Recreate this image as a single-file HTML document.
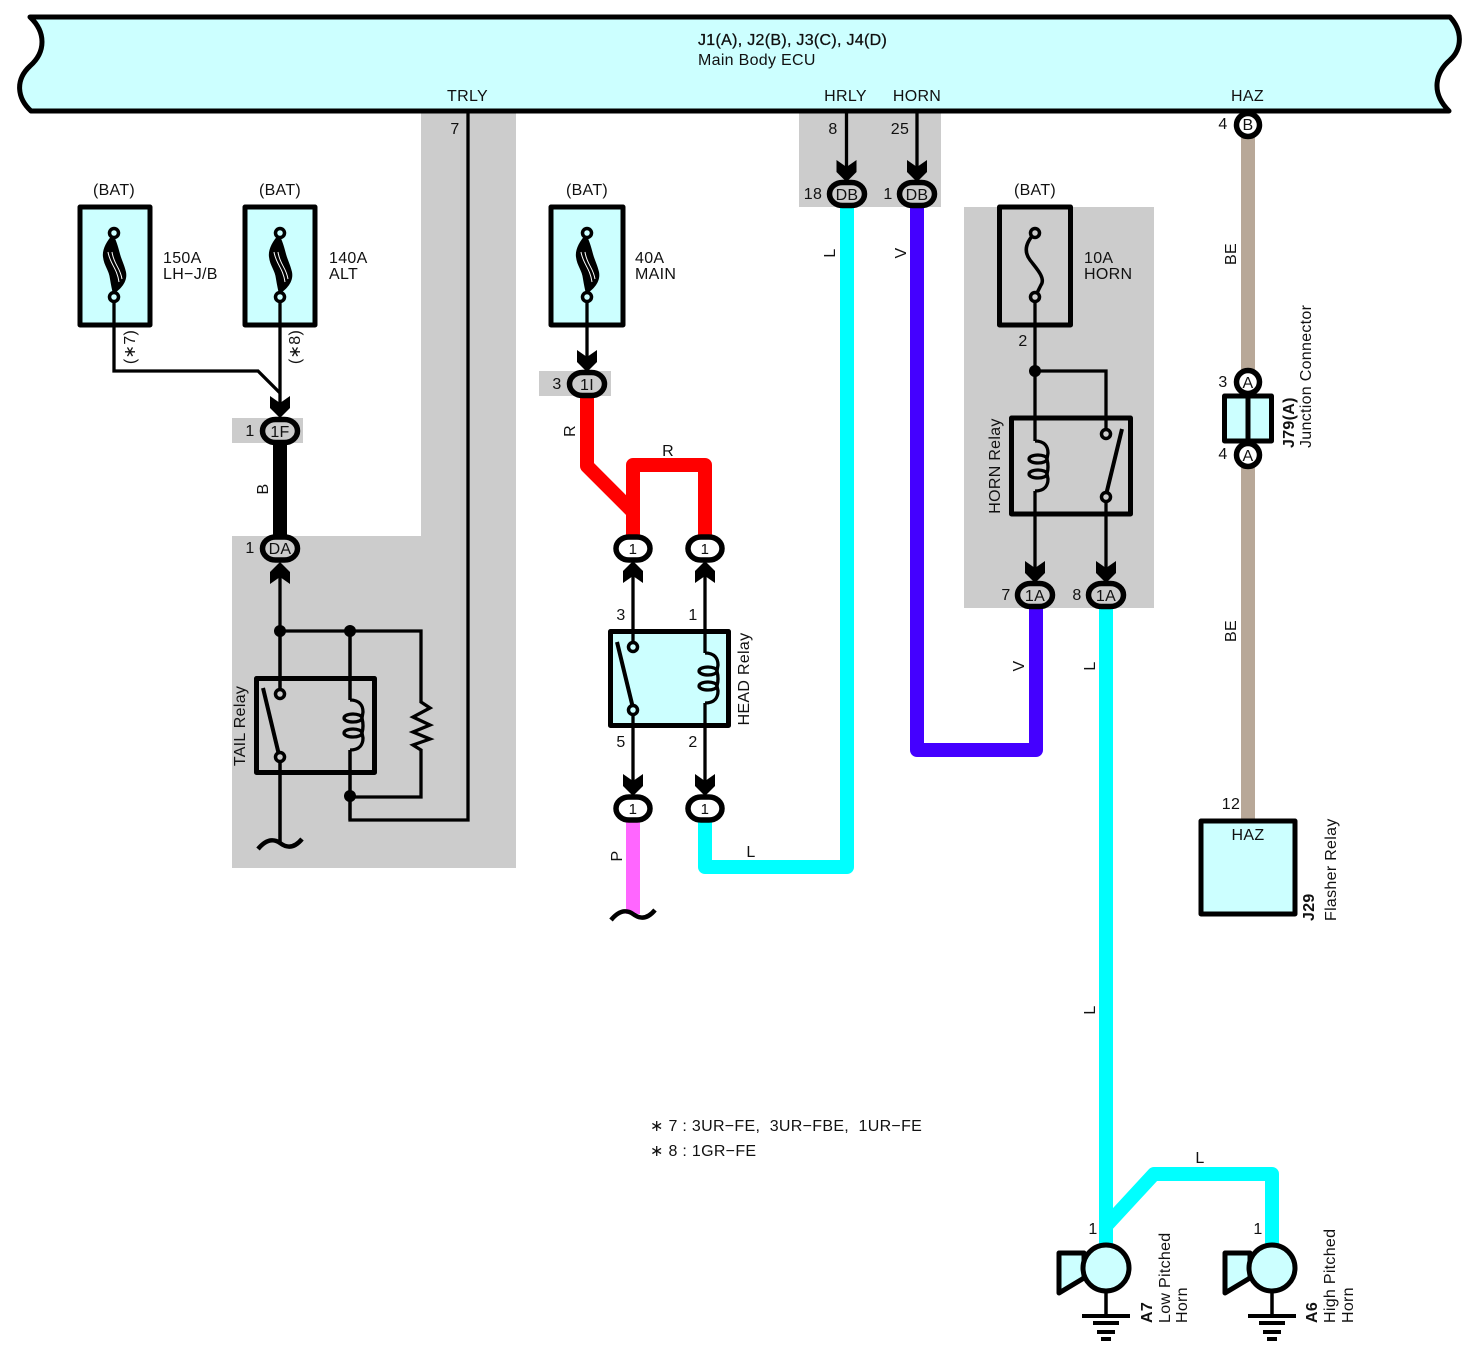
<!DOCTYPE html>
<html><head><meta charset="utf-8"><style>
html,body{margin:0;padding:0;background:#fff;width:1470px;height:1350px;overflow:hidden}
svg{display:block}
text{font-family:"Liberation Sans",sans-serif;font-size:16px;letter-spacing:.3px;fill:#111}
.m{text-anchor:middle}
.b{font-weight:bold}
.l{fill:none;stroke:#000;stroke-width:3.3}
.box{stroke:#000;stroke-width:5;stroke-linejoin:round}
</style></head><body>
<svg width="1470" height="1350" viewBox="0 0 1470 1350" xmlns="http://www.w3.org/2000/svg">
<defs>
<path id="ad" d="M-10,-22L0,-15L10,-22V-10L0,0L-10,-10Z" fill="#000"/>
<path id="au" d="M-10,22L0,15L10,22V10L0,0L-10,10Z" fill="#000"/>
<g id="coil" fill="none" stroke="#000" stroke-width="3.3"><path d="M0,0C10,0 13,6 13,12L12,18Q14,26 12,33L13,38C13,44 10,50 0,50"/><ellipse cx="3" cy="18" rx="9" ry="4"/><ellipse cx="3" cy="33" rx="9" ry="4"/></g>
<g id="fuse"><path d="M-1,-28C-8,-20 -12,-12 -11,-5C-10,4 -5,8 -4,17C-3,23 -2,28 -1,32C6,28 14,20 12,10C10,2 8,-1 6,-8C4,-16 2,-22 -1,-28Z" fill="#000"/><path d="M-6,-10C-4,2 3,6 5,20M-2,-10C0,3 6,5 8,17" fill="none" stroke="#fff" stroke-width="1"/></g>
<path id="sq" d="M-22,6C-12,-6 -4,-3 0,0S12,8 22,-4" fill="none" stroke="#000" stroke-width="4.5"/>
<g id="gnd" stroke="#000" stroke-width="4"><path d="M0,-25V0" stroke-width="3.5"/><path d="M-24,0H24M-13,7H13M-9,16H9M-5,23H5"/></g>
<g id="hornc"><path d="M-47,-15H-22V10L-47,25Z" fill="#ccffff" stroke="#000" stroke-width="5" stroke-linejoin="round"/><circle r="23" fill="#ccffff" stroke="#000" stroke-width="5"/></g>
</defs>

<!-- gray regions -->
<g fill="#cccccc">
<path d="M421,111H516V868H232V536H421Z"/>
<rect x="232" y="418" width="71" height="25"/>
<rect x="799" y="111" width="142" height="96"/>
<rect x="539" y="371" width="72" height="25"/>
<rect x="964" y="207" width="190" height="401"/>
</g>

<!-- ECU bar -->
<path d="M30,17H1450C1462,30 1463,48 1450,60C1436,72 1430,92 1449,111H31C17,98 15,80 30,66C46,52 46,32 30,17Z" fill="#ccffff" stroke="#000" stroke-width="5" stroke-linejoin="round"/>

<!-- thick wires -->
<g fill="none" stroke-width="14" stroke-linejoin="round" stroke-linecap="butt">
<path d="M280,431V548" stroke="#000"/>
<path d="M587,384V466L633,512V548" stroke="#ff0000"/>
<path d="M633,512V465H705V548" stroke="#ff0000"/>
<path d="M633,808V914" stroke="#ff66ff"/>
<path d="M705,808V867H847V194" stroke="#00ffff"/>
<path d="M917,194V750H1036V595" stroke="#4400ff"/>
<path d="M1106,595V1245" stroke="#00ffff"/>
<path d="M1106,1226L1154,1174H1272V1245" stroke="#00ffff"/>
<path d="M1248,125V822" stroke="#b8a898"/>
</g>

<!-- thin wires -->
<g class="l">
<path d="M114,297V371H258L280,393"/>
<path d="M280,297V405"/>
<path d="M280,575V694M280,757V843"/>
<path d="M280,631H421V702L430,708L413,717L430,725L413,732L430,739L413,745L421,750V797H350"/>
<path d="M350,631V700M350,750V820H468V111"/>
<path d="M587,297V360"/>
<path d="M846.5,111V175M917,111V175"/>
</g>

<!-- boxes -->
<g class="box" fill="#ccffff">
<rect x="80" y="207" width="70" height="118"/>
<rect x="245" y="207" width="70" height="118"/>
<rect x="551" y="207" width="72" height="118"/>
<rect x="1224.5" y="396" width="23.5" height="45"/>
<rect x="1248" y="396" width="23.5" height="45"/>
<rect x="1201" y="821" width="94" height="93"/>
</g>
<rect x="999.5" y="207" width="71" height="118" class="box" fill="#cccccc"/>
<path d="M114,297V325M280,297V325M587,297V325" class="l"/>

<use href="#fuse" x="114" y="262"/>
<use href="#fuse" x="280" y="262"/>
<use href="#fuse" x="587" y="262"/>
<path d="M1035,233C1025,243 1024,252 1030,260C1036,268 1046,278 1041,285C1039,289 1037,293 1035,297" fill="none" stroke="#000" stroke-width="3.5"/>

<!-- relays -->
<rect x="256.5" y="678.5" width="118" height="94" class="box" fill="none"/>
<rect x="610.5" y="631.5" width="118" height="94" class="box" fill="#ccffff"/>
<rect x="1011.5" y="418" width="119" height="96" class="box" fill="none"/>
<path d="M633,575V647M633,710V790M705,575V653M705,703V790" class="l"/>
<path d="M280,631V694M280,757V843M350,631V700M350,750V820M1035,297V441M1035,491V575M1035,371H1106V434M1106,497V575" class="l"/>
<use href="#coil" x="350" y="700"/>
<use href="#coil" x="705" y="653"/>
<use href="#coil" x="1035" y="441"/>
<g stroke="#000" stroke-width="4" fill="none">
<path d="M263,688L279,755M617,642L633,708M1122,429L1106,495"/>
</g>
<g fill="#ccffff" stroke="#000" stroke-width="3.5">
<circle cx="633" cy="647" r="4.5"/><circle cx="633" cy="710" r="4.5"/>
<circle cx="114" cy="233" r="4.5"/><circle cx="114" cy="297" r="4.5"/>
<circle cx="280" cy="233" r="4.5"/><circle cx="280" cy="297" r="4.5"/>
<circle cx="587" cy="233" r="4.5"/><circle cx="587" cy="297" r="4.5"/>
</g>
<g fill="#cccccc" stroke="#000" stroke-width="3.5">
<circle cx="280" cy="694" r="4.5"/><circle cx="280" cy="757" r="4.5"/>
<circle cx="1106" cy="434" r="4.5"/><circle cx="1106" cy="497" r="4.5"/>
<circle cx="1035" cy="233" r="4.5"/><circle cx="1035" cy="297" r="4.5"/>
</g>
<g fill="#000">
<circle cx="280" cy="631" r="6"/><circle cx="350" cy="631" r="6"/><circle cx="350" cy="796" r="6"/><circle cx="1035" cy="371" r="6"/>
</g>
<use href="#sq" x="280" y="843"/>
<use href="#sq" x="633" y="914"/>

<!-- arrowheads -->
<use href="#ad" x="280" y="418"/>
<use href="#au" x="280" y="562"/>
<use href="#ad" x="587" y="372"/>
<use href="#au" x="633" y="561"/>
<use href="#au" x="705" y="561"/>
<use href="#ad" x="633" y="796"/>
<use href="#ad" x="705" y="796"/>
<use href="#ad" x="846.5" y="182"/>
<use href="#ad" x="917" y="182"/>
<use href="#ad" x="1035" y="583"/>
<use href="#ad" x="1106" y="583"/>

<!-- connectors -->
<g stroke="#000" stroke-width="5.5">
<g fill="#cccccc">
<rect x="262.500" y="419.500" width="35" height="23" rx="13" ry="11.5"/>
<rect x="262.500" y="537" width="35" height="23" rx="13" ry="11.5"/>
<rect x="569.500" y="372.500" width="35" height="23" rx="13" ry="11.500"/>
<rect x="829.500" y="182.500" width="35" height="23" rx="13" ry="11.500"/>
<rect x="899.500" y="182.500" width="35" height="23" rx="13" ry="11.500"/>
<rect x="1017.500" y="583.500" width="35" height="23" rx="13" ry="11.500"/>
<rect x="1088.500" y="583.500" width="35" height="23" rx="13" ry="11.500"/>
</g>
<g fill="#ffffff">
<rect x="616" y="537" width="34" height="23" rx="13" ry="11.5"/>
<rect x="688" y="537" width="34" height="23" rx="13" ry="11.5"/>
<rect x="616" y="797" width="34" height="23" rx="13" ry="11.5"/>
<rect x="688" y="797" width="34" height="23" rx="13" ry="11.5"/>
<circle cx="1248" cy="125" r="11.5"/>
<circle cx="1248" cy="382" r="11.5"/>
<circle cx="1248" cy="455" r="11.5"/>
</g>
</g>

<!-- horns -->
<use href="#gnd" x="1106" y="1316"/>
<use href="#gnd" x="1272" y="1316"/>
<use href="#hornc" x="1106" y="1268"/>
<use href="#hornc" x="1272" y="1268"/>

<!-- labels -->
<text x="698" y="45" style="stroke:#111;stroke-width:.3">J1(A), J2(B), J3(C), J4(D)</text>
<text x="698" y="65">Main Body ECU</text>
<text x="467.500" y="101" class="m">TRLY</text>
<text x="845.500" y="101" class="m">HRLY</text>
<text x="917" y="101" class="m">HORN</text>
<text x="1247.500" y="101" class="m">HAZ</text>
<text x="455" y="134" class="m">7</text>
<text x="833" y="134" class="m">8</text>
<text x="900" y="134" class="m">25</text>
<text x="1223" y="129" class="m">4</text>
<text x="1248" y="130" class="m" >B</text>
<text x="813" y="199" class="m">18</text>
<text x="888" y="199" class="m">1</text>
<text x="847" y="200" class="m">DB</text>
<text x="917" y="200" class="m">DB</text>
<text x="114" y="195" class="m">(BAT)</text>
<text x="280" y="195" class="m">(BAT)</text>
<text x="587" y="195" class="m">(BAT)</text>
<text x="1035" y="195" class="m">(BAT)</text>
<text x="163" y="263">150A</text><text x="163" y="279">LH−J/B</text>
<text x="329" y="263">140A</text><text x="329" y="279">ALT</text>
<text x="635" y="263">40A</text><text x="635" y="279">MAIN</text>
<text x="1084" y="263">10A</text><text x="1084" y="279">HORN</text>
<text class="m" transform="translate(135,347) rotate(-90)">(∗7)</text>
<text class="m" transform="translate(300,347) rotate(-90)">(∗8)</text>
<text x="250" y="436" class="m">1</text><text x="280" y="437" class="m">1F</text>
<text class="m" transform="translate(268,489) rotate(-90)">B</text>
<text x="250" y="553" class="m">1</text><text x="280" y="554" class="m">DA</text>
<text x="557" y="389" class="m">3</text><text x="587" y="390" class="m">1I</text>
<text class="m" transform="translate(575,431) rotate(-90)">R</text>
<text x="668" y="456" class="m">R</text>
<text x="633" y="554" class="m" style="font-size:15px">1</text><text x="705" y="554" class="m" style="font-size:15px">1</text>
<text x="633" y="814" class="m" style="font-size:15px">1</text><text x="705" y="814" class="m" style="font-size:15px">1</text>
<text x="621" y="620" class="m">3</text><text x="693" y="620" class="m">1</text>
<text x="621" y="747" class="m">5</text><text x="693" y="747" class="m">2</text>
<text class="m" transform="translate(749,679) rotate(-90)">HEAD Relay</text>
<text class="m" transform="translate(245,726) rotate(-90)">TAIL Relay</text>
<text class="m" transform="translate(622,856) rotate(-90)">P</text>
<text x="751" y="857" class="m">L</text>
<text class="m" transform="translate(835,253) rotate(-90)">L</text>
<text class="m" transform="translate(906,253) rotate(-90)">V</text>
<text class="m" transform="translate(1024,666) rotate(-90)">V</text>
<text class="m" transform="translate(1095,666) rotate(-90)">L</text>
<text class="m" transform="translate(1095,1010) rotate(-90)">L</text>
<text x="1200" y="1163" class="m">L</text>
<text x="1023" y="346" class="m">2</text>
<text x="1006" y="600" class="m">7</text><text x="1035" y="601" class="m">1A</text>
<text x="1077" y="600" class="m">8</text><text x="1106" y="601" class="m">1A</text>
<text class="m" transform="translate(1000,466) rotate(-90)">HORN Relay</text>
<text class="m" transform="translate(1236,254) rotate(-90)">BE</text>
<text class="m" transform="translate(1236,631) rotate(-90)">BE</text>
<text x="1223" y="387" class="m">3</text><text x="1248" y="388" class="m">A</text>
<text x="1223" y="459" class="m">4</text><text x="1248" y="461" class="m">A</text>
<text transform="translate(1294,448) rotate(-90)" class="b">J79(A)</text>
<text transform="translate(1311,448) rotate(-90)">Junction Connector</text>
<text x="1231" y="809" class="m">12</text>
<text x="1248" y="840" class="m">HAZ</text>
<text transform="translate(1314,921) rotate(-90)" class="b">J29</text>
<text transform="translate(1336,921) rotate(-90)">Flasher Relay</text>
<text transform="translate(1152,1323) rotate(-90)" class="b">A7</text>
<text transform="translate(1170,1323) rotate(-90)">Low Pitched</text>
<text transform="translate(1187,1323) rotate(-90)">Horn</text>
<text transform="translate(1317,1323) rotate(-90)" class="b">A6</text>
<text transform="translate(1335,1323) rotate(-90)">High Pitched</text>
<text transform="translate(1353,1323) rotate(-90)">Horn</text>
<text x="1093" y="1234" class="m">1</text>
<text x="1258" y="1234" class="m">1</text>
<text x="650" y="1131" xml:space="preserve" style="white-space:pre">∗ 7 : 3UR−FE,  3UR−FBE,  1UR−FE</text>
<text x="650" y="1156" xml:space="preserve" style="white-space:pre">∗ 8 : 1GR−FE</text>
</svg>
</body></html>
